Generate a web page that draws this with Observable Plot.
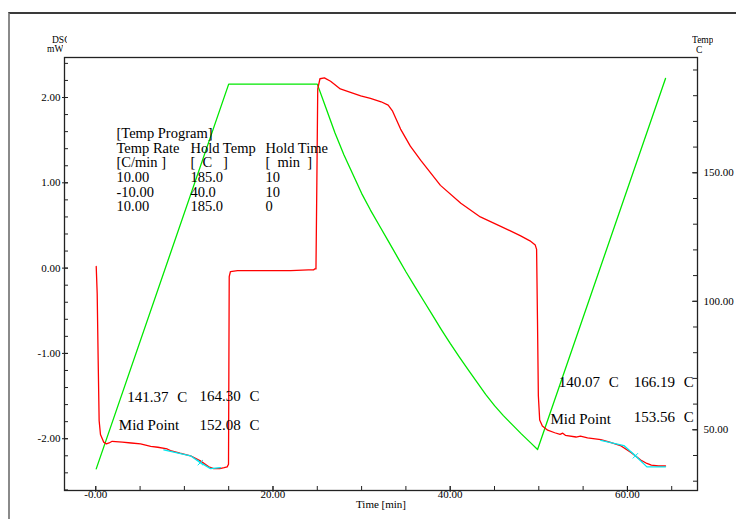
<!DOCTYPE html>
<html><head><meta charset="utf-8">
<script src="https://cdn.jsdelivr.net/npm/d3@7"></script>
<script src="https://cdn.jsdelivr.net/npm/@observablehq/plot@0.6"></script>
<style>
body{margin:0;background:#fff;}
#wrap{position:relative;width:736px;height:519px;overflow:hidden;font-family:"Liberation Serif",serif;background:#fff;}
#chart{position:absolute;left:0;top:0;}
#outer{position:absolute;left:8px;top:12px;width:800px;height:600px;border-left:2px solid #8a8a8a;border-top:2px solid #3a3a3a;box-sizing:border-box;pointer-events:none;}
.lbl{position:absolute;overflow:hidden;white-space:nowrap;font-size:9.5px;line-height:10px;color:#000;}
</style></head><body>
<div id="wrap"><div id="chart"></div><div id="outer"></div>
<div class="lbl" style="left:52px;top:35px;width:15px">DSC</div>
<div class="lbl" style="left:47px;top:44px;width:16px">mW</div>
<div class="lbl" style="left:692px;top:35px;width:21px">Temp</div>
<div class="lbl" style="left:696px;top:45px;width:10px">C</div>
</div>
<script>
// ---------- data ----------
const dscTime = [0.05,0.16,0.27,0.38,0.53,0.9,1.2,1.5,1.85,3.0,4.0,5.05,6.2,7.0,8.06,8.43,9.5,10.7,11.8,12.76,13.3,14.0,14.5,14.83,14.98,15.02,15.06,15.2,16,18,20,22,24,24.6,24.7,24.85,24.95,25.05,25.3,25.8,26.5,27.6,28.5,29.9,31,32.2,33.0,33.5,34.4,35.5,36.7,38.9,41.2,43.4,45.7,47.9,49.0,49.6,49.75,49.85,49.95,50.1,50.4,51.0,51.8,52.4,52.7,53.0,54.2,54.7,55.5,57.0,58.0,59.2,60.4,61.5,62.2,62.7,63.5,64.3];
const dscMW   = [0.02,-0.30,-1.08,-1.79,-1.95,-2.04,-2.06,-2.05,-2.03,-2.04,-2.05,-2.06,-2.09,-2.10,-2.12,-2.14,-2.17,-2.20,-2.26,-2.33,-2.35,-2.35,-2.34,-2.33,-2.30,-1.20,-0.10,-0.04,-0.03,-0.03,-0.03,-0.03,-0.02,-0.02,-0.01,-0.01,1.0,2.1,2.22,2.23,2.19,2.10,2.07,2.02,1.99,1.95,1.91,1.84,1.63,1.43,1.26,0.97,0.76,0.60,0.49,0.38,0.32,0.27,0.22,-0.6,-1.5,-1.78,-1.85,-1.90,-1.93,-1.95,-1.935,-1.96,-1.98,-1.97,-1.99,-2.01,-2.04,-2.08,-2.16,-2.25,-2.29,-2.31,-2.32,-2.32];

const tempTime = [0.05,15.0,25.0,26,27,28,29,30,31,32,33,34,35,36,37,38,39,40,41,42,43,44,45,46,47,48,49,49.86,64.3];
const tempC    = [34.8,184.5,184.5,175,165.5,157,149.5,142,135.5,129.5,123.5,117.5,111.5,105.8,100.2,94.6,89,83.6,78.5,73.5,68.6,63.8,59.4,55.5,52,48.5,45.2,42.3,186.7];

const cyan1Time = [7.68,10.69,11.8,12.95,14.07];
const cyan1MW   = [-2.13,-2.20,-2.28,-2.35,-2.34];
const cyan2Time = [57.0,59.6,60.9,62.2,64.3];
const cyan2MW   = [-2.02,-2.08,-2.20,-2.33,-2.33];
const markTime  = [11.8,60.9];
const markMW    = [-2.28,-2.20];

const leftTicks  = [-2,-1,0,1,2];
const rightTicks = [50,100,150];
const bottomTicks = [0,20,40,60];

const programRows = [
  ["[Temp Program]","",""],
  ["Temp Rate","Hold Temp","Hold Time"],
  ["[C/min\u00a0]","[\u00a0\u00a0C\u00a0\u00a0\u00a0]","[\u00a0\u00a0min\u00a0\u00a0]"],
  ["10.00","185.0","10"],
  ["-10.00","40.0","10"],
  ["10.00","185.0","0"]
];
const annotText = ["141.37\u00a0\u00a0\u200aC","164.30\u00a0\u00a0\u200aC","Mid Point","152.08\u00a0\u00a0\u200aC",
                   "140.07\u00a0\u00a0\u200aC","166.19\u00a0\u00a0\u200aC","Mid Point","153.56\u00a0\u00a0\u200aC"];

// ---------- layout ----------
const W = 736, H = 519, mL = 64, mR = 39, mT = 57, mB = 29;
const plotW = W - mL - mR, plotH = H - mT - mB;
const xDomain = [-3.53, 67.91];
const yDomain = [-2.607, 2.469];
const tempDomain = [26.38, 194.86];
const tToV = d3.scaleLinear().domain(tempDomain).range(yDomain);

const tableColX = [2.34, 10.69, 19.15];
const tableRowY0 = 1.525, tableRowStep = 0.172;
const annotX = [3.55, 11.71, 2.60, 11.71, 52.25, 60.72, 51.32, 60.72];
const annotY = [-1.573, -1.561, -1.893, -1.893, -1.397, -1.397, -1.822, -1.807];

const cells = [];
programRows.forEach((row, r) => row.forEach((txt, c) => { if (txt) cells.push({r, c, txt}); }));

const idx = a => d3.range(a.length);
const RED = "#ff0000", GREEN = "#00e800", CYAN = "#00e8f0", AX = "#222";

const chart = Plot.plot({
  width: W, height: H,
  marginLeft: mL, marginRight: mR, marginTop: mT, marginBottom: mB,
  x: {domain: xDomain, axis: null},
  y: {domain: yDomain, axis: null},
  style: {fontFamily: "Liberation Serif, serif", fontSize: "11px", background: "white", color: "#000"},
  marks: [
    // ticks
    Plot.tickY(d3.range(-26, 25, 2).map(i => i / 10), {y: d => d, stroke: AX, insetRight: plotW - 4}),
    Plot.tickY(leftTicks, {y: d => d, stroke: AX, insetLeft: -2, insetRight: plotW - 4}),
    Plot.tickY(d3.range(30, 191, 10), {y: d => tToV(d), stroke: AX, insetLeft: plotW - 4}),
    Plot.tickY(rightTicks, {y: d => tToV(d), stroke: AX, insetLeft: plotW - 5}),
    Plot.tickX(d3.range(0, 66, 5), {x: d => d, stroke: AX, insetTop: plotH - 4}),
    Plot.tickX(bottomTicks, {x: d => d, stroke: AX, insetTop: plotH - 4, insetBottom: -2}),
    // tick labels
    Plot.axisY(leftTicks, {tickSize: 0, tickPadding: 4, fontSize: 11, tickFormat: d => d.toFixed(2), label: null}),
    Plot.text(rightTicks, {y: d => tToV(d), frameAnchor: "right", text: d => d.toFixed(2), textAnchor: "start", dx: 6, fontSize: 11}),
    Plot.axisX(bottomTicks, {tickSize: 0, tickPadding: 0, fontSize: 11, tickFormat: d => d === 0 ? "-0.00" : d.toFixed(2), label: null}),
    Plot.text(["Time [min]"], {frameAnchor: "bottom", dy: 17, fontSize: 11}),
    // series
    Plot.line(idx(tempTime), {x: i => tempTime[i], y: i => tToV(tempC[i]), stroke: GREEN, strokeWidth: 1.3}),
    Plot.line(idx(dscTime), {x: i => dscTime[i], y: i => dscMW[i], stroke: RED, strokeWidth: 1.3}),
    Plot.line(idx(cyan1Time), {x: i => cyan1Time[i], y: i => cyan1MW[i], stroke: CYAN, strokeWidth: 1.3}),
    Plot.line(idx(cyan2Time), {x: i => cyan2Time[i], y: i => cyan2MW[i], stroke: CYAN, strokeWidth: 1.3}),
    Plot.dot(idx(markTime), {x: i => markTime[i], y: i => markMW[i], symbol: "times", r: 2.5, stroke: CYAN, strokeWidth: 1}),
    // texts
    Plot.text(cells, {x: d => tableColX[d.c], y: d => tableRowY0 - d.r * tableRowStep, text: d => d.txt,
      textAnchor: "start", lineAnchor: "bottom", fontSize: 14.5, fill: "#000"}),
    Plot.text(idx(annotText), {x: i => annotX[i], y: i => annotY[i], text: i => annotText[i],
      textAnchor: "start", lineAnchor: "bottom", fontSize: 15, fill: "#000"}),
    Plot.frame({stroke: AX, strokeWidth: 1.3})
  ]
});
document.getElementById("chart").appendChild(chart);
</script>
</body></html>
